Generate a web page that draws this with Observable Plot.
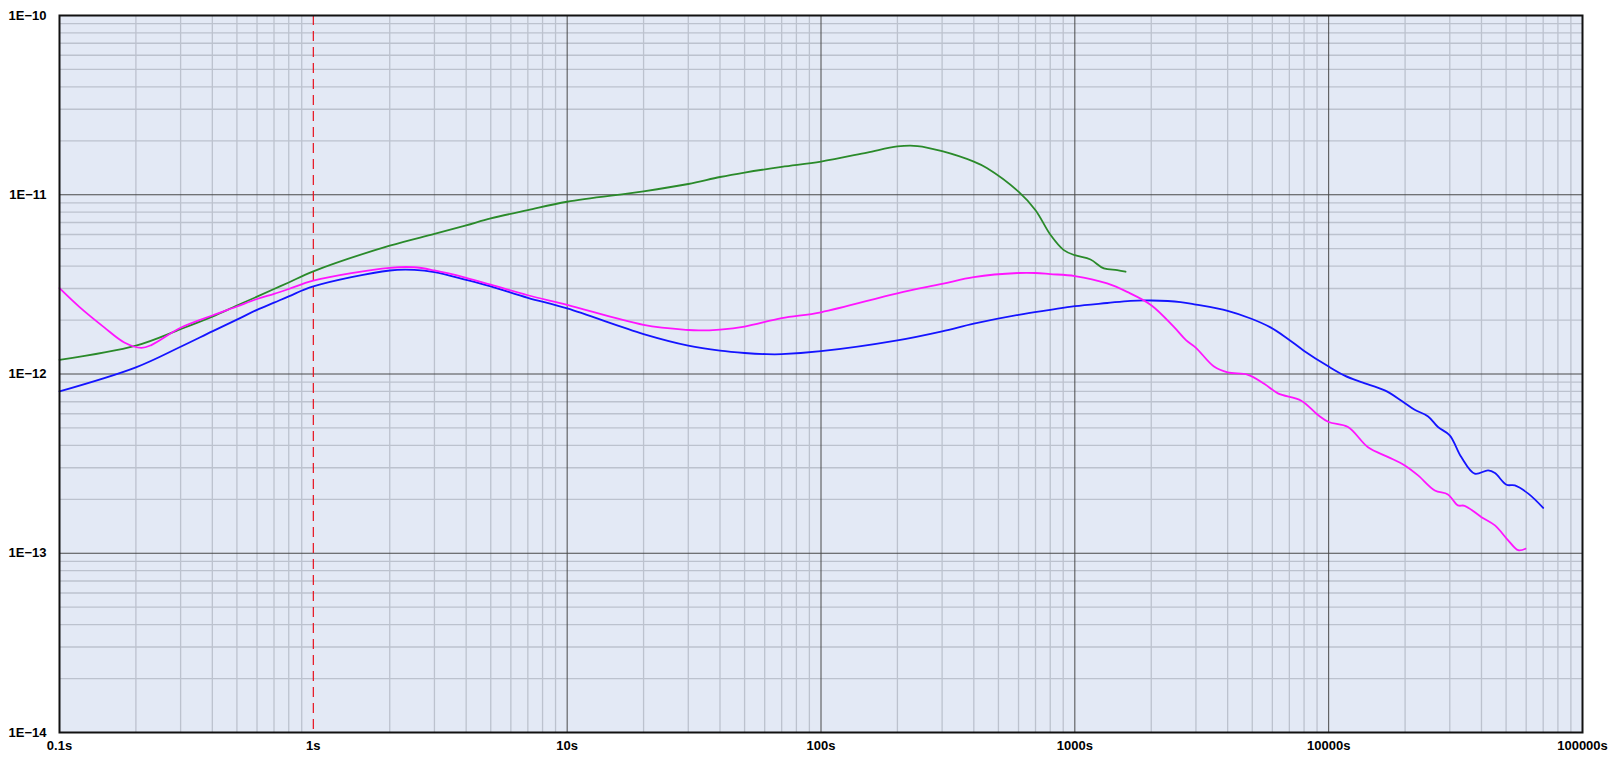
<!DOCTYPE html>
<html>
<head>
<meta charset="utf-8">
<script src="https://cdn.jsdelivr.net/npm/d3@7"></script>
<script src="https://cdn.jsdelivr.net/npm/@observablehq/plot@0.6"></script>
<style>
  html, body { margin: 0; padding: 0; background: #ffffff; }
  #chart svg { display: block; }
</style>
</head>
<body>
<div id="chart"></div>
<script>
// ---- Tick values and labels ----
const xMajorTicks = [0.1, 1, 10, 100, 1000, 10000, 100000];
const xTickLabels = ["0.1s", "1s", "10s", "100s", "1000s", "10000s", "100000s"];
const yMajorTicks = [1e-14, 1e-13, 1e-12, 1e-11, 1e-10];
const yTickLabels = ["1E\u221214", "1E\u221213", "1E\u221212", "1E\u221211", "1E\u221210"];
const minorMultipliers = [2, 3, 4, 5, 6, 7, 8, 9];
const markerTime = [1];

// ---- Series: green ----
const greenT = [0.1, 0.2, 0.3, 0.4, 0.5, 0.6, 0.7, 0.8, 1, 2, 3, 4, 5, 7, 10, 20, 30, 40, 50, 70, 100, 152, 200, 240, 300, 400, 450, 600, 700, 800, 905, 1000, 1153, 1301, 1469, 1584];
const greenV = [1.20e-12, 1.44e-12, 1.78e-12, 2.09e-12, 2.41e-12, 2.70e-12, 2.98e-12, 3.24e-12, 3.74e-12, 5.2e-12, 6.05e-12, 6.75e-12, 7.38e-12, 8.21e-12, 9.14e-12, 1.044e-11, 1.148e-11, 1.256e-11, 1.33e-11, 1.43e-11, 1.53e-11, 1.72e-11, 1.86e-11, 1.87e-11, 1.75e-11, 1.53e-11, 1.41e-11, 1.04e-11, 8.2e-12, 6.0e-12, 4.91e-12, 4.60e-12, 4.35e-12, 3.88e-12, 3.80e-12, 3.72e-12];

// ---- Series: magenta ----
const magentaT = [0.1, 0.12, 0.15, 0.18, 0.21, 0.23, 0.3, 0.4, 0.5, 0.6, 0.7, 0.8, 1, 2, 2.5, 3, 4, 5, 7, 10, 20, 30, 33, 40, 50, 70, 100, 200, 300, 400, 600, 700, 800, 1000, 1341, 1607, 2000, 2456, 2748, 3000, 3534, 4000, 4810, 5590, 6310, 7800, 9080, 10000, 11920, 14290, 17170, 19950, 22500, 26200, 29500, 32300, 34350, 40000, 45200, 50950, 55800, 59600];
const magentaV = [3.01e-12, 2.36e-12, 1.82e-12, 1.50e-12, 1.40e-12, 1.45e-12, 1.81e-12, 2.12e-12, 2.38e-12, 2.62e-12, 2.80e-12, 2.98e-12, 3.32e-12, 3.91e-12, 3.94e-12, 3.78e-12, 3.44e-12, 3.15e-12, 2.75e-12, 2.43e-12, 1.88e-12, 1.76e-12, 1.75e-12, 1.77e-12, 1.84e-12, 2.05e-12, 2.21e-12, 2.82e-12, 3.18e-12, 3.47e-12, 3.66e-12, 3.66e-12, 3.61e-12, 3.52e-12, 3.20e-12, 2.87e-12, 2.42e-12, 1.83e-12, 1.54e-12, 1.40e-12, 1.10e-12, 1.02e-12, 9.9e-13, 8.8e-13, 7.8e-13, 7.1e-13, 5.9e-13, 5.4e-13, 5.06e-13, 3.9e-13, 3.44e-13, 3.09e-13, 2.72e-13, 2.24e-13, 2.13e-13, 1.85e-13, 1.84e-13, 1.59e-13, 1.43e-13, 1.18e-13, 1.04e-13, 1.06e-13];

// ---- Series: blue ----
const blueT = [0.1, 0.2, 0.3, 0.4, 0.5, 0.6, 0.7, 0.8, 1, 2, 2.5, 3, 4, 5, 7, 10, 20, 30, 40, 50, 61, 70, 100, 200, 300, 400, 600, 800, 1000, 1341, 1657, 2000, 2610, 3000, 4000, 4930, 5900, 6870, 7980, 10000, 11560, 13450, 16630, 19350, 21820, 24650, 26960, 29980, 33300, 37600, 42500, 45200, 50200, 54150, 61150, 70000];
const blueV = [8.0e-13, 1.09e-12, 1.42e-12, 1.73e-12, 2.01e-12, 2.28e-12, 2.50e-12, 2.71e-12, 3.08e-12, 3.78e-12, 3.81e-12, 3.70e-12, 3.35e-12, 3.08e-12, 2.66e-12, 2.32e-12, 1.67e-12, 1.44e-12, 1.35e-12, 1.31e-12, 1.29e-12, 1.29e-12, 1.34e-12, 1.54e-12, 1.73e-12, 1.91e-12, 2.14e-12, 2.28e-12, 2.39e-12, 2.49e-12, 2.56e-12, 2.57e-12, 2.52e-12, 2.44e-12, 2.25e-12, 2.04e-12, 1.82e-12, 1.58e-12, 1.35e-12, 1.10e-12, 9.8e-13, 9.0e-13, 8.1e-13, 7.1e-13, 6.32e-13, 5.8e-13, 5.06e-13, 4.55e-13, 3.44e-13, 2.78e-13, 2.90e-13, 2.80e-13, 2.41e-13, 2.39e-13, 2.15e-13, 1.79e-13];

// ---- Derived tables ----
const toRows = (ts, vs) => ts.map((t, i) => ({t, v: vs[i]}));
const green = toRows(greenT, greenV);
const magenta = toRows(magentaT, magentaV);
const blue = toRows(blueT, blueV);

const xMinorTicks = xMajorTicks.slice(0, -1).flatMap(b => minorMultipliers.map(m => b * m));
const yMinorTicks = yMajorTicks.slice(0, -1).flatMap(b => minorMultipliers.map(m => b * m));
const xGridMajor = xMajorTicks.filter(d => !markerTime.includes(d));
const xLabelMap = new Map(xMajorTicks.map((d, i) => [d, xTickLabels[i]]));
const yLabelMap = new Map(yMajorTicks.map((d, i) => [d, yTickLabels[i]]));

const font = "'Liberation Sans', Arial, Helvetica, sans-serif";

const chart = Plot.plot({
  width: 1608,
  height: 757,
  marginLeft: 59,
  marginRight: 26,
  marginTop: 15,
  marginBottom: 25,
  style: {fontFamily: font, fontSize: "13px", fontWeight: "bold", color: "#000", background: "#fff"},
  x: {type: "log", domain: [0.1, 100000]},
  y: {type: "log", domain: [1e-14, 1e-10]},
  marks: [
    Plot.frame({fill: "#e3e9f5", stroke: null}),
    Plot.ruleX(xMinorTicks, {stroke: "#bcc2ce", strokeWidth: 1.3}),
    Plot.ruleY(yMinorTicks, {stroke: "#bcc2ce", strokeWidth: 1.3}),
    Plot.ruleX(xGridMajor, {stroke: "#4a4a4a", strokeWidth: 1}),
    Plot.ruleY(yMajorTicks, {stroke: "#4a4a4a", strokeWidth: 1}),
    Plot.ruleX(markerTime, {stroke: "#e8101c", strokeWidth: 1.2, strokeDasharray: "10 6"}),
    Plot.line(green, {x: "t", y: "v", stroke: "#2a8a2a", strokeWidth: 1.8, curve: "catmull-rom"}),
    Plot.line(blue, {x: "t", y: "v", stroke: "#1414ff", strokeWidth: 1.8, curve: "catmull-rom"}),
    Plot.line(magenta, {x: "t", y: "v", stroke: "#ff14ff", strokeWidth: 1.8, curve: "catmull-rom"}),
    Plot.frame({stroke: "#111", strokeWidth: 2}),
    Plot.axisX({ticks: xMajorTicks, tickFormat: d => xLabelMap.get(d), tickSize: 0, tickPadding: 8, fontWeight: "bold", fontSize: 13, fill: "#000", label: null}),
    Plot.axisY({ticks: yMajorTicks, tickFormat: d => yLabelMap.get(d), tickSize: 0, tickPadding: 13, fontWeight: "bold", fontSize: 13, fill: "#000", label: null})
  ]
});
document.getElementById("chart").appendChild(chart);
</script>
</body>
</html>
